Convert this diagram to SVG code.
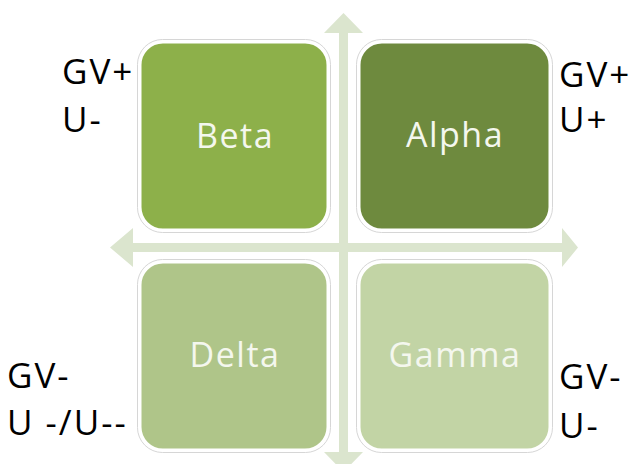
<svg xmlns="http://www.w3.org/2000/svg" width="633" height="464" viewBox="0 0 633 464">
  <style>
    .axis { fill: #dbe5ce; }
    .box { stroke: #ffffff; stroke-width: 3; }
    .halo { fill: none; stroke: #d6d6d6; stroke-width: 1; }
    .name { font-family: "Open Sans", "Noto Sans", sans-serif; font-size: 34px; letter-spacing: 1.5px; fill: #f4f7ee; text-anchor: middle; }
    .tag { font-family: "Open Sans", "Noto Sans", sans-serif; font-size: 35px; letter-spacing: 2px; fill: #000000; }
  </style>
  <rect width="633" height="464" fill="#ffffff"/>

  <!-- axes: vertical and horizontal double-headed arrows -->
  <g id="connectors">
    <polygon class="axis" points="339,33 324,33 343.5,13 363,33 348,33 348,452 363,452 343.5,472 324,452 339,452"/>
    <polygon class="axis" points="133,243 133,228 110,247.5 133,267 133,252 562,252 562,267 578,247.5 562,228 562,243"/>
  </g>

  <g id="beta">
    <rect class="halo" x="137.5" y="39.5" width="193" height="193" rx="25"/>
    <rect class="box" x="140" y="42" width="188" height="188" rx="23" fill="#8db04a"/>
    <text class="name" x="235" y="148">Beta</text>
  </g>

  <g id="alpha">
    <rect class="halo" x="356.5" y="39.5" width="196" height="193" rx="25"/>
    <rect class="box" x="359" y="42" width="191" height="188" rx="23" fill="#6e8a3e"/>
    <text class="name" x="455" y="147">Alpha</text>
  </g>

  <g id="delta">
    <rect class="halo" x="137.5" y="259.5" width="193" height="193" rx="25"/>
    <rect class="box" x="140" y="262" width="188" height="188" rx="23" fill="#afc589"/>
    <text class="name" x="235" y="367">Delta</text>
  </g>

  <g id="gamma">
    <rect class="halo" x="356.5" y="259.5" width="196" height="193" rx="25"/>
    <rect class="box" x="359" y="262" width="191" height="188" rx="23" fill="#c2d4a5"/>
    <text class="name" x="455" y="367">Gamma</text>
  </g>

  <g id="labels">
    <text class="tag" x="62" y="84">GV+</text>
    <text class="tag" x="62" y="132">U-</text>
    <text class="tag" x="559" y="87">GV+</text>
    <text class="tag" x="559" y="132">U+</text>
    <text class="tag" x="7" y="388">GV-</text>
    <text class="tag" x="7" y="435">U -/U--</text>
    <text class="tag" x="559" y="389">GV-</text>
    <text class="tag" x="559" y="438">U-</text>
  </g>
</svg>
